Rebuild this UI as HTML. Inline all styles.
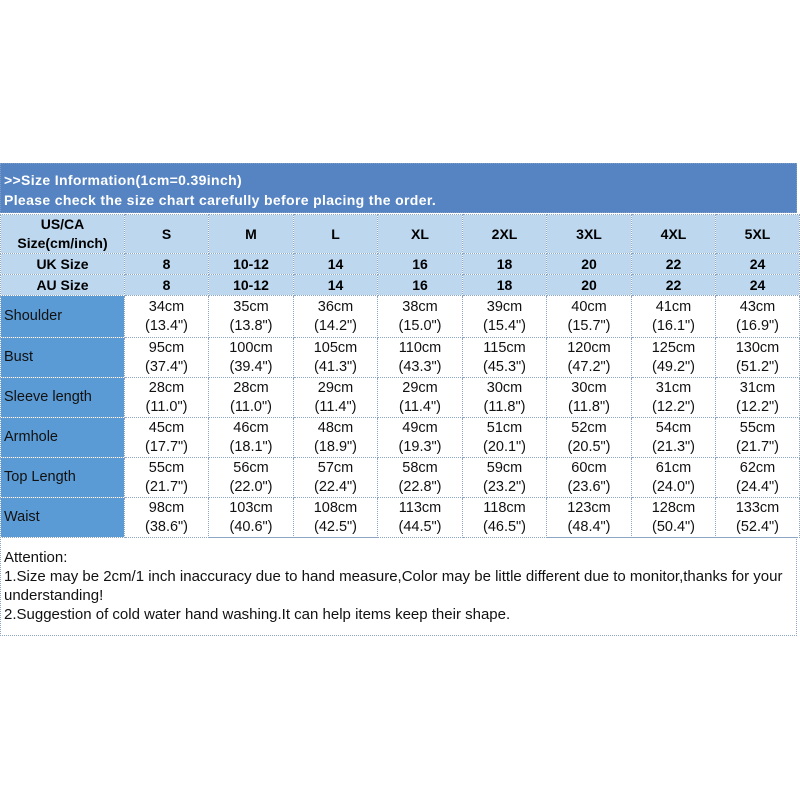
<!DOCTYPE html>
<html><head><meta charset="utf-8"><style>
body{margin:0;width:800px;height:800px;background:#fff;position:relative;font-family:"Liberation Sans",Arial,sans-serif;overflow:hidden}
#hd{position:absolute;left:0;top:163px;width:797px;height:50px;background:#5684c2;border:1px dotted #7f9cc4;color:#fff;font-weight:bold;font-size:14px;letter-spacing:0.35px;line-height:20px;padding-top:6px;box-sizing:border-box;padding-left:3px}
table{position:absolute;left:0;top:214px;border-collapse:collapse;table-layout:fixed;width:799px}
td{border:1px dotted #8ea6c6;padding:0;text-align:center;font-size:14.5px;color:#111;line-height:19px;overflow:hidden}
tr.h td{background:#bdd7ee;font-weight:bold;color:#000;font-size:14px}
td.l{background:#5b9bd5;text-align:left;padding-left:3px;color:#111}
#nt{position:absolute;left:0;top:537px;width:797px;height:99px;border:1px dotted #8ea6c6;box-sizing:border-box;font-size:15px;line-height:19px;padding:10px 3px 0 3px;color:#111}
</style></head><body>
<div id="hd">&gt;&gt;Size Information(1cm=0.39inch)<br>Please check the size chart carefully before placing the order.</div>
<table>
<colgroup><col style="width:124px"><col style="width:84px"><col style="width:85px"><col style="width:84px"><col style="width:85px"><col style="width:84px"><col style="width:85px"><col style="width:84px"><col style="width:84px"></colgroup>
<tr class="h" style="height:39px"><td>US/CA<br>Size(cm/inch)</td><td>S</td><td>M</td><td>L</td><td>XL</td><td>2XL</td><td>3XL</td><td>4XL</td><td>5XL</td></tr>
<tr class="h" style="height:21px"><td>UK Size</td><td>8</td><td>10-12</td><td>14</td><td>16</td><td>18</td><td>20</td><td>22</td><td>24</td></tr>
<tr class="h" style="height:21px"><td>AU Size</td><td>8</td><td>10-12</td><td>14</td><td>16</td><td>18</td><td>20</td><td>22</td><td>24</td></tr>
<tr style="height:42px"><td class="l">Shoulder</td><td>34cm<br>(13.4")</td><td>35cm<br>(13.8")</td><td>36cm<br>(14.2")</td><td>38cm<br>(15.0")</td><td>39cm<br>(15.4")</td><td>40cm<br>(15.7")</td><td>41cm<br>(16.1")</td><td>43cm<br>(16.9")</td></tr>
<tr style="height:40px"><td class="l">Bust</td><td>95cm<br>(37.4")</td><td>100cm<br>(39.4")</td><td>105cm<br>(41.3")</td><td>110cm<br>(43.3")</td><td>115cm<br>(45.3")</td><td>120cm<br>(47.2")</td><td>125cm<br>(49.2")</td><td>130cm<br>(51.2")</td></tr>
<tr style="height:40px"><td class="l">Sleeve length</td><td>28cm<br>(11.0")</td><td>28cm<br>(11.0")</td><td>29cm<br>(11.4")</td><td>29cm<br>(11.4")</td><td>30cm<br>(11.8")</td><td>30cm<br>(11.8")</td><td>31cm<br>(12.2")</td><td>31cm<br>(12.2")</td></tr>
<tr style="height:40px"><td class="l">Armhole</td><td>45cm<br>(17.7")</td><td>46cm<br>(18.1")</td><td>48cm<br>(18.9")</td><td>49cm<br>(19.3")</td><td>51cm<br>(20.1")</td><td>52cm<br>(20.5")</td><td>54cm<br>(21.3")</td><td>55cm<br>(21.7")</td></tr>
<tr style="height:40px"><td class="l">Top Length</td><td>55cm<br>(21.7")</td><td>56cm<br>(22.0")</td><td>57cm<br>(22.4")</td><td>58cm<br>(22.8")</td><td>59cm<br>(23.2")</td><td>60cm<br>(23.6")</td><td>61cm<br>(24.0")</td><td>62cm<br>(24.4")</td></tr>
<tr style="height:40px"><td class="l">Waist</td><td>98cm<br>(38.6")</td><td>103cm<br>(40.6")</td><td>108cm<br>(42.5")</td><td>113cm<br>(44.5")</td><td>118cm<br>(46.5")</td><td>123cm<br>(48.4")</td><td>128cm<br>(50.4")</td><td>133cm<br>(52.4")</td></tr>
</table>
<div id="nt">Attention:<br>1.Size may be 2cm/1 inch inaccuracy due to hand measure,Color may be little different due to monitor,thanks for your understanding!<br>2.Suggestion of cold water hand washing.It can help items keep their shape.</div>
</body></html>
